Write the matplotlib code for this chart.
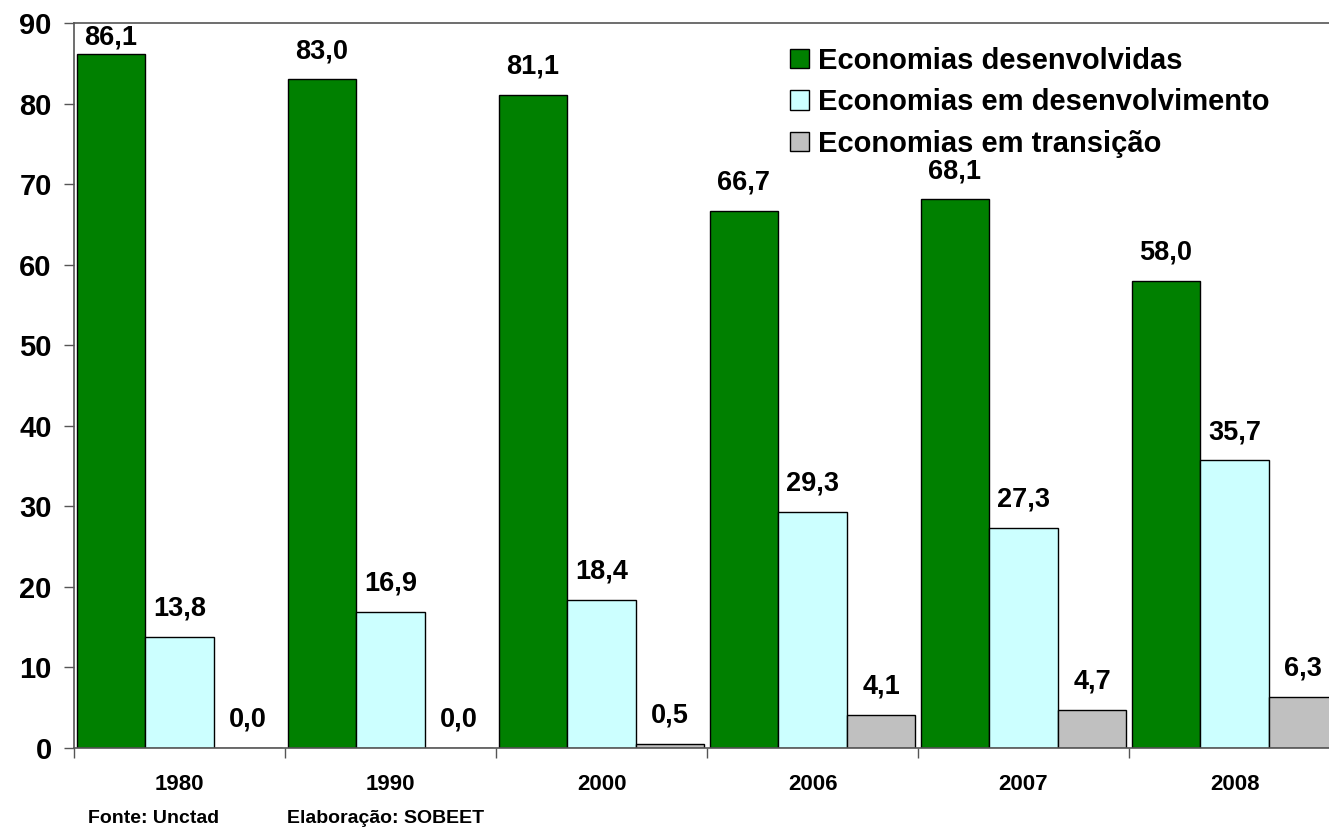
import numpy as np
import matplotlib
matplotlib.use("Agg")
import matplotlib.pyplot as plt
from matplotlib.patches import Patch

plt.rcParams['font.family'] = ['Liberation Sans', 'DejaVu Sans']
plt.rcParams['font.weight'] = 'bold'

# Data
years = ['1980', '1990', '2000', '2006', '2007', '2008']
desenvolvidas = [86.1, 83.0, 81.1, 66.7, 68.1, 58.0]
em_desenvolvimento = [13.8, 16.9, 18.4, 29.3, 27.3, 35.7]
em_transicao = [0.0, 0.0, 0.5, 4.1, 4.7, 6.3]
series_names = ['Economias desenvolvidas', 'Economias em desenvolvimento',
                'Economias em transição']
colors = ['#008000', '#CCFFFF', '#C0C0C0']

fig = plt.figure(figsize=(13.29, 8.30), dpi=100)
ax = fig.add_axes([74 / 1329, 1 - 748 / 830, 1266 / 1329, 725 / 830])

x = np.arange(len(years))
w = 0.325
all_series = [desenvolvidas, em_desenvolvimento, em_transicao]
for k, (vals, col) in enumerate(zip(all_series, colors)):
    pos = x + (k - 1) * w
    ax.bar(pos, vals, width=w, color=col, edgecolor='black', linewidth=1.0, zorder=2)
    for px, v in zip(pos, vals):
        off = 3 if v > 85 else 11
        ax.annotate(f"{v:.1f}".replace('.', ','), (px, v), xytext=(0, off),
                    textcoords='offset points', ha='center', va='bottom',
                    fontsize=19.5, fontweight='bold')

ax.set_xlim(-0.5, len(years) - 0.5)
ax.set_ylim(0, 90)
ax.set_yticks(range(0, 91, 10))
ax.tick_params(axis='y', labelsize=21, length=7, width=1, color='#555555', pad=9)

# group separators as ticks, year names in the middle
ax.set_xticks(np.arange(-0.5, len(years), 1.0))
ax.set_xticklabels([])
ax.set_xticks(x, minor=True)
ax.set_xticklabels(years, minor=True, fontsize=16, fontweight='bold')
ax.tick_params(axis='x', which='major', length=7, width=1, color='#555555')
ax.tick_params(axis='x', which='minor', length=0, pad=19)

for s in ['left', 'bottom', 'top']:
    ax.spines[s].set_color('#555555')
    ax.spines[s].set_linewidth(1.2)
ax.spines['right'].set_visible(False)

handles = [Patch(facecolor=c, edgecolor='black', linewidth=1.0) for c in colors]
fig.legend(handles, series_names, loc='upper left', bbox_to_anchor=(790 / 1329, 1 - 47 / 830),
           frameon=False, prop={'weight': 'bold', 'size': 21},
           handlelength=0.65, handleheight=0.65, handletextpad=0.3, labelspacing=0.46,
           borderaxespad=0, borderpad=0)

fig.text(88 / 1329, 1 - 818 / 830, 'Fonte: Unctad', fontsize=14, fontweight='bold', va='center')
fig.text(287 / 1329, 1 - 818 / 830, 'Elaboração: SOBEET', fontsize=14, fontweight='bold', va='center')

fig.savefig('out.png', dpi=100)
